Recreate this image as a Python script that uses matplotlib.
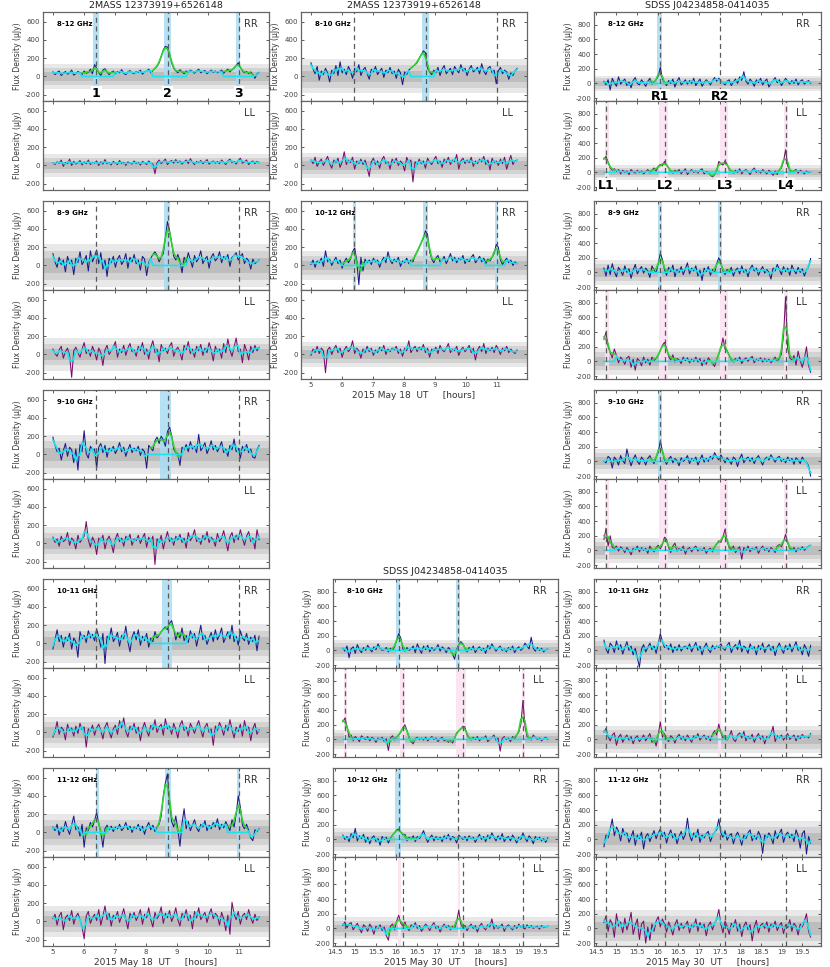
import numpy as np
import matplotlib
matplotlib.use("Agg")
import matplotlib.pyplot as plt
from matplotlib.ticker import FormatStrFormatter

plt.rcParams['font.family'] = ['DejaVu Sans']
plt.rcParams['axes.unicode_minus'] = False

# observing spans (hours UT)
may18_span = (5.0, 11.65)
may30_span = (14.7, 19.7)

# event times (dashed lines)
may18_events = [6.4, 8.7, 11.0]
may30_rr_events = [16.06, 17.51]
may30_ll_events = [14.76, 16.18, 17.64, 19.10]

# ---- 2MASS 12373919+6526148, 2015 May 18 (flux density, uJy) ----
rr_may18_812 = [50, 20, 45, 60, 10, 35, 55, 25, 40, 70, 15, 30, 55, 40, 20, 60, 35, 45, 80, 30,
                130, 90, 40, 10, 70, 85, 50, 20, 45, 60, 30, 55, 40, 75, 35, 20, 50, 65, 40, 30,
                55, 45, 70, 25, 50, 60, 80, 40, 65, 90, 110, 150, 220, 290, 330, 320, 250, 150, 90, 60,
                40, 75, 50, 30, 60, 45, 70, 55, 35, 60, 80, 40, 55, 65, 30, 50, 70, 45, 60, 40,
                55, 70, 35, 60, 80, 50, 75, 90, 120, 150, 100, 60, 40, 55, 30, 50, 20, -20, 30, 45]
ll_may18_812 = [30, 10, 40, 25, 60, -10, 35, 20, 70, 0, 45, 15, 30, 55, 5, 40, 20, 60, 10, 35,
                25, 50, 0, 40, 15, 65, 20, 30, 5, 45, 25, 10, 55, 20, 35, 0, 40, 25, 15, 50,
                20, 35, 5, 45, 30, 10, 50, 25, 15, -90, 30, 60, 20, 45, 70, 10, 40, 55, 25, 65,
                30, 50, 15, 40, 60, 20, 75, 35, 10, 45, 30, 55, 20, 40, 65, 15, 35, 50, 25, 45,
                20, 60, 35, 10, 50, 70, 30, 45, 15, 55, 80, 25, 40, 60, 10, 35, 50, 20, 45, 30]
rr_may18_89 = [130, 40, -20, 90, 10, 60, -70, 100, 20, 60, -100, 80, 30, 150, 10, 50, 110, -60, 160, 40,
               100, 170, 20, 140, -40, 60, -120, 80, 30, 100, -20, 70, 110, 10, 50, 130, -30, 90, 40, 120,
               20, 60, -50, 100, 70, -110, 30, 80, 120, 150, 110, 40, 90, 130, 300, 480, 380, 250, 100, 60,
               120, 50, -80, 90, 30, 140, 60, -20, 110, 40, 80, 160, 20, 70, 100, -30, 90, 130, 50, 80,
               150, 30, 100, 70, 120, -10, 90, 110, 140, 60, 100, 130, 20, 80, 50, -40, 70, 20, 40, 60]
ll_may18_89 = [60, 10, -20, 50, 90, -40, 30, 70, -10, -250, 40, 80, 20, -30, 60, 130, 10, 50, -20, 90,
               30, -60, 70, 20, -120, 50, 100, 0, 40, 80, 140, -30, 60, 20, 100, -10, 70, 120, 30, 50,
               -20, 90, 40, 130, 0, 60, -50, 80, 150, 20, 60, -80, 110, 40, 70, 10, 90, 130, -20, 50,
               80, 20, -60, 100, 50, 140, 10, 60, -30, 90, 40, 110, -10, 70, 20, 130, 50, -70, 90, 30,
               60, -40, 120, 20, 170, 50, -20, 80, 180, 30, 60, -90, 110, 40, -60, 90, 20, 100, 40, 80]
rr_may18_910 = [190, 100, 30, 70, -60, 40, 120, -20, 80, 50, -90, 60, -170, 110, 30, 260, 10, -40, 90, 50,
                60, -150, 80, 120, 20, 100, -30, 70, 40, 90, 10, 60, 130, 30, 80, -20, 50, 110, 20, 70,
                40, 90, -10, 60, 30, -150, 100, 70, 40, 150, 190, 120, 200, 160, 90, 250, 300, 210, 60, 20,
                10, -120, 80, 50, 110, 30, 140, 60, 90, 20, 220, 40, 80, 130, 10, 70, 150, 50, 100, 30,
                80, 140, 20, 60, -20, 100, 50, 170, 30, 70, -40, 90, 40, 110, 20, 60, -30, -40, 50, 100]
ll_may18_910 = [70, 10, 50, -30, 80, 20, 40, 120, -20, 60, 30, -60, 90, 10, 50, 80, 240, 40, -40, 70,
                20, -120, 60, 30, 90, -60, 40, 80, 10, -100, 50, 110, 20, 60, -30, 80, 40, 100, -20, 50,
                30, 90, 0, 60, 110, -40, 70, 20, 80, -230, 50, 10, 90, -60, 40, 130, 20, 60, -20, 80,
                40, 100, 10, 60, -50, 120, 30, 70, 150, 20, 60, -10, 90, 40, 130, 10, 70, 40, -30, 110,
                20, 60, 140, 30, -80, 70, 120, 10, 90, 40, 150, 60, -20, 80, 130, 20, 60, -60, 150, 40]
rr_may18_1011 = [-60, 40, 150, 20, 90, -40, 70, 30, 110, -60, 60, 20, -150, 130, 50, 90, 10, 140, 60, 100,
                 30, 160, 70, -40, 110, -220, 80, 40, 170, 20, 60, 120, -30, 90, 50, 190, 20, -90, 70, 130,
                 40, 150, -20, 80, 30, 110, -40, 60, 20, 130, 60, 90, 130, 160, 180, 150, 220, 250, 160, 40,
                 120, 60, 170, 30, 90, 10, 140, 60, 110, -30, 80, 200, 40, 90, -10, 60, 120, 20, 150, 40,
                 90, 170, 10, 70, 130, 50, 200, 20, 80, -20, 140, 60, 30, 110, -10, 70, 20, 90, -80, 80]
ll_may18_1011 = [-50, 10, 120, -20, 60, 30, -80, 90, 20, 50, -40, 70, -10, 100, 30, 60, -160, 40, 10, 80,
                 -30, 50, 90, 20, -70, 60, 110, 10, -60, 40, 80, -20, 130, 50, 160, 10, -50, 70, 30, 100,
                 -10, 60, -90, 40, 110, 20, -40, 80, 30, 140, 0, 60, 90, -30, 150, 40, 70, -20, 100, 30,
                 -60, 80, 130, 20, 60, -40, 100, 50, -10, 70, 130, 30, -50, 60, 100, 0, 40, -140, 70, 20,
                 110, 50, -30, 80, 20, 140, 30, -60, 60, 10, 90, -40, 130, 20, 60, -90, 40, 100, -20, 30]
rr_may18_1112 = [60, 20, 90, -30, 50, 10, 120, 40, -20, 80, 180, 30, 60, -40, 90, -160, 50, 20, 110, 60,
                 130, 220, 90, 10, -160, 40, 80, 30, 70, 10, 60, 40, 90, 20, 50, 110, 30, 70, 0, 60,
                 40, 90, 20, 70, -20, 60, 110, 30, 80, 10, 60, 90, 180, 400, 540, 640, 330, 120, 60, 180,
                 30, -150, 100, 260, 40, 120, 20, 80, 140, 50, 10, 90, 60, 130, 20, 80, 40, 110, 60, 150,
                 30, 90, 50, 120, 70, 20, 140, 60, 200, 400, 280, 80, 40, 90, 20, -60, -90, 30, 10, 40]
ll_may18_1112 = [30, 80, -40, 60, 100, -90, 40, 70, 10, 120, -30, 50, 90, 20, -60, -190, 60, 110, -20, 40,
                 80, 10, 130, -40, 60, 170, 20, 90, -50, 70, 30, 110, -10, 60, 140, 20, -80, 90, 40, 100,
                 10, 60, 130, -30, 80, 40, 150, 20, -60, 100, 30, 70, 160, -20, 90, 40, 120, 0, 60, 150,
                 20, -50, 90, 40, 130, 10, 70, -80, 110, 40, 150, 20, 60, 100, -10, 80, 140, 30, 90, 60,
                 -40, 100, 30, -100, 70, -140, 210, 80, 20, 110, -30, 60, 90, 20, 130, 40, -20, 80, 10, 50]
rr_may18_810 = [150, 80, 30, 110, -40, 60, 20, 90, 40, -60, 70, 30, 120, 10, 160, 40, 80, 20, 110, 60,
                -20, 90, 50, 130, 10, 70, 100, 30, -30, 80, 50, 110, 20, 60, 90, -10, 70, 40, 100, 30,
                60, -20, 80, 40, -90, 50, 20, 70, 90, 110, 130, 150, 200, 240, 280, 260, 90, 50, 20, 70,
                40, 100, 10, 80, 120, 30, 60, 90, 20, 110, 70, 40, 130, 60, 90, 10, 80, 120, 50, 70,
                100, 30, 140, 60, 20, 90, 110, 40, 70, -80, 60, 100, 30, 70, 50, -30, 40, 10, 60, 90]
ll_may18_810 = [60, 20, 90, -10, 40, 70, 0, 50, 100, 20, -30, 60, 30, 80, -20, 40, 150, 10, 60, 30,
                90, -40, 50, 20, 70, 10, 60, -20, -120, 40, 80, 10, 50, -30, 60, 100, 20, 40, -40, 70,
                30, 80, 0, 50, 20, -60, 90, 30, 60, -180, 40, 10, 70, 20, 50, -30, 80, 40, 10, 60,
                100, 20, 50, -20, 70, 30, 90, 10, 60, 40, 120, -40, 50, 80, 20, 60, 30, 90, -10, 50,
                20, 70, 40, 100, 10, 60, -50, 80, 30, 50, 0, 70, 20, 90, -40, 40, 110, 10, 50, 60]
rr_may18_1012 = [10, 60, -20, 50, 30, 80, -10, 160, 40, 70, 0, 50, 90, 20, 60, -30, 40, 80, 30, 70,
                 150, 190, 60, -210, 90, -60, 70, 30, 60, 10, 80, 40, 60, -20, 50, 90, 30, 150, 60, 20,
                 70, 40, 90, -10, 50, 30, 80, 20, 60, 40, 110, 150, 200, 250, 300, 380, 340, 150, 70, 30,
                 80, 110, 40, 60, 100, 20, 70, 130, 50, 90, 30, 80, 60, 110, 20, 70, 40, 90, 120, 30,
                 60, 100, 40, 80, 20, 70, 50, 90, 130, 230, 200, 60, 10, 50, 80, 30, 60, 0, 40, 20]
ll_may18_1012 = [-10, 60, 20, 90, 10, 70, 40, -200, 50, 80, 0, 60, 100, 20, 70, -30, 50, 90, 30, 60,
                 150, 10, 70, 40, -40, 60, 20, 90, 30, 70, -10, 50, 20, 80, 40, 100, 0, 60, 30, 70,
                 50, 90, 10, 60, -20, 70, 40, 150, 20, 60, 90, 30, 80, 50, 110, 20, 70, -30, 60, 40,
                 80, 10, 100, 50, 30, 70, 120, 20, 60, 40, 90, -10, 50, 80, 30, 60, 100, 20, 70, -60,
                 50, 90, 30, 120, 10, 70, 40, 80, 20, 100, 60, 0, 70, 40, 90, 20, 60, 30, 10, 50]

# ---- SDSS J04234858-0414035, 2015 May 30 (flux density, uJy) ----
rr_may30_812 = [30, -20, 50, -90, 70, 10, -40, 90, -10, 30, 60, -30, 20, -60, 40, 80, 0, -20, 50, 10,
                -40, 30, 70, -10, 20, 50, 100, 220, 60, 10, -30, 40, 0, 60, -50, 30, 80, -20, 10, 50,
                -10, 40, 0, 70, -30, 20, 60, -40, 10, 50, 20, -20, 40, 80, 30, 70, 40, 10, -20, 30,
                50, -30, 20, 60, 0, 90, 40, 160, 30, -10, 60, 20, -40, 50, 10, 70, -20, 30, 60, -50,
                0, 40, 80, 10, 50, -30, 20, 70, 30, -10, 40, 0, 60, -20, 30, 50, -10, 20, 40, 0]
ll_may30_812 = [180, 220, 140, 60, 30, 50, 10, 40, -20, 30, 0, 20, -30, 40, 10, -10, 30, 0, 20, -20,
                10, 40, -10, 30, 60, 20, 80, 110, 90, 150, 100, 60, 20, -10, 30, 0, 40, -20, 20, 50,
                -30, 10, 40, 0, 20, -10, 30, 50, -20, 10, 0, -40, -60, -30, 20, 150, 120, 100, 160, 110,
                40, 20, -10, 30, 0, 50, -20, 20, 40, 10, -30, 30, 60, 0, 20, -10, 40, 10, -20, 30,
                0, -40, 20, -30, 40, 60, 150, 310, 90, 30, 0, 20, 40, -10, 30, 10, -20, 20, 0, 10]
rr_may30_89 = [60, -50, 100, -30, 120, 10, -60, 70, 20, -40, 90, 0, 50, -80, 30, 110, -20, 40, 80, -10,
               60, 20, -70, 90, 30, 0, 120, 260, 180, 40, -40, 70, 10, 100, -60, 40, 0, 80, -30, 50,
               130, -20, 60, 20, 90, -50, 30, -110, 60, 10, 80, -40, 40, 0, 120, 200, 130, 20, -30, 40,
               10, 70, -50, 30, 60, -20, 90, 0, 40, -60, 50, 100, 20, 60, -40, 30, 80, -10, 40, 0,
               -90, 60, 20, 110, 40, -30, 80, 10, 60, -40, 100, 30, -20, 70, 0, 50, -50, 30, 80, 190]
ll_may30_89 = [300, 400, 200, 120, 50, 170, 80, -20, 60, 20, -40, 50, 70, -80, 30, -120, 40, 10, -60, 60,
               -20, 30, -50, 60, 10, 40, 80, 150, 220, 260, 180, 70, 20, 90, -10, 40, 20, -30, 60, 10,
               50, -20, 30, 0, 60, -10, 40, -60, 20, -40, 50, 10, -30, -70, 30, 100, 180, 320, 170, 150,
               80, 20, -10, 40, 10, 60, -30, 20, 50, 0, 40, 70, -20, 30, 10, 50, -10, 40, 0, 30,
               -20, 20, 60, 0, 40, 100, 350, 880, 180, 50, 20, 80, -50, 140, 10, -80, 40, 200, -60, -150]
rr_may30_910 = [0, -20, 70, 40, -90, 60, 20, -50, 80, 10, -30, 170, 40, -60, 30, 90, 0, -40, 60, 20,
                -50, 40, 80, 10, -30, 60, 120, 280, 140, 20, -40, 30, 70, -20, 40, 10, -60, 50, 0, 30,
                80, -30, 40, 10, 60, -50, 20, 90, -10, 40, 0, 70, 30, 120, 60, 20, 90, 40, -20, 50,
                10, -40, 60, 30, -70, 40, 100, -20, 30, 60, 0, 50, -30, 40, 80, 10, -50, 30, 60, 20,
                90, 40, -10, 50, 70, 0, 30, -20, 60, 10, 40, -40, 50, 20, -30, 60, 10, -10, -60, -200]
ll_may30_910 = [150, 300, 60, 200, 40, 30, 60, -10, 50, 20, -30, 40, 0, -60, 30, 10, 60, -20, 40, 0,
                30, -40, 60, 10, -20, 40, 70, 20, 80, 180, 150, 40, -30, 60, 100, -10, 30, 0, 60, -50,
                20, 40, -20, 30, 60, -10, 20, 0, 40, -40, 10, 30, -20, 50, 90, 130, 110, 180, 290, 120,
                40, 10, 60, -30, 20, 50, -120, 40, 0, 60, -20, 30, 10, 50, -40, 20, 60, 0, 30, -20,
                40, 10, -30, 60, 80, 50, 120, 220, 100, 30, 0, 40, -20, 30, 10, 50, 0, 30, 60, 70]
rr_may30_1011 = [140, 20, -40, 100, 60, -30, 130, 10, 80, -50, 40, 120, 0, 60, -60, 30, -100, -230, 20, 80,
                 -20, 40, 100, 10, 60, -40, 90, 230, 120, 40, 70, 10, 90, -30, 50, 0, 80, -10, 40, 60,
                 20, 90, -20, 50, 110, 0, 60, -60, 40, 100, 10, -30, 70, 20, 60, 40, 90, 30, 0, 70,
                 110, -30, 40, 80, 10, 140, -20, 60, 30, -40, 90, 20, 50, -60, 70, 10, 100, -30, 40, 80,
                 0, 60, -70, 40, 100, 20, -40, 70, 10, 90, -20, 50, 120, 0, 40, -60, 80, 20, -80, 70]
ll_may30_1011 = [100, 150, 40, -20, 60, 90, -80, 30, 70, -40, 20, 60, -10, 40, -60, 20, 50, -30, 10, 60,
                 -20, 30, 80, -40, 10, -90, 60, 240, 30, 80, 10, -30, 50, 20, -50, 30, 70, 0, 40, -20,
                 60, 10, -40, 50, 20, 80, -10, 30, 60, 0, 40, -20, 70, 120, 60, 210, 90, 20, 50, -10,
                 40, 120, 0, -30, 60, 90, 20, 110, -20, 40, 10, 70, -40, 30, 80, 0, 50, -60, 40, 20,
                 70, 180, -30, 50, 20, 60, -10, 40, 80, 0, 30, 60, -20, 50, 10, 70, 30, 40, 20, 80]
rr_may30_1112 = [-100, 60, 20, 140, 280, 50, 170, 110, -20, 150, 60, 90, -40, 30, 120, -80, 60, 10, 100, -130,
                 40, 80, -30, 50, 120, 10, 90, 140, 40, 100, -50, 60, 130, 20, 80, -60, 40, 110, 0, 70,
                 290, 60, -20, 90, 30, 140, -40, 60, 20, 80, 110, -30, 50, 100, 130, 280, 90, 30, 120, -10,
                 50, 80, -60, 40, 100, 20, -80, 60, 10, 90, 130, -20, 50, 0, 110, 40, -190, 60, 20, 90,
                 30, -60, 120, 10, 80, 140, -40, 60, 100, 20, 70, -30, 130, 50, -120, 80, 120, -200, 40, -50]
ll_may30_1112 = [80, 170, -40, 120, 60, -120, 200, 30, 90, -60, 140, -20, 80, 220, -80, 40, 130, -150, 60, 100,
                 -200, 20, -160, 60, -40, 100, 160, 20, 130, 60, -50, 90, 10, -90, 50, 120, -30, 70, 0, 40,
                 100, -60, 50, 20, 130, -40, 80, 10, 60, -100, 40, 90, -20, 70, 120, 260, 60, -60, 100, 30,
                 -80, 70, 20, 120, -40, 60, -110, 30, 90, -20, 50, -170, 20, 110, -60, 40, 70, 0, 90, -50,
                 60, 20, 100, -30, 40, 80, -70, 50, 10, 120, -40, 70, 30, -90, 60, 20, 100, 200, -40, -120]
rr_may30_810 = [30, -10, 60, -100, 20, 50, -40, 80, 10, -30, 40, 0, 70, 20, -20, 50, 10, 90, 30, 0,
                10, 40, -20, 30, 0, 50, 140, 230, 170, 20, -10, 40, 0, 20, 60, -30, 90, 20, -40, 60,
                10, 70, -20, 40, 0, 30, 80, -10, 50, 20, -30, 40, 10, -50, -120, 20, 80, 120, 90, 30,
                -20, 40, 10, 60, -30, 20, 50, 0, 30, -40, 70, 20, 90, 40, -10, 30, 60, 0, 20, -20,
                40, 10, 60, -30, 20, 50, 0, 30, 100, 60, 20, 180, 30, -10, 40, 0, 30, -20, 10, 20]
ll_may30_810 = [240, 290, 180, 30, 60, -20, 40, 10, -30, 50, 20, 0, 40, -20, 30, 10, -40, 20, 0, 30,
                -30, 10, -150, 20, 50, -10, 30, 60, 100, 160, 200, 120, 20, -30, -60, 10, 30, 0, 20, -10,
                30, -20, 10, 40, 0, 20, -30, 10, 30, -20, 0, -40, -10, -50, 20, 90, 120, 140, 180, 170,
                60, 20, -10, 30, 0, 40, -20, 20, 10, 50, -30, 0, 30, 60, -10, 20, -160, 10, 40, 0,
                20, -30, 40, 10, 60, 100, 200, 530, 180, 40, 20, -10, 60, 30, 0, 20, -20, 10, 30, 0]
rr_may30_1012 = [60, 0, 40, -30, 80, 20, 150, -20, 50, 10, 70, -40, 30, -60, 20, 50, -30, 10, -80, 40,
                 0, 30, -50, 20, 60, 90, 130, 140, 100, 60, 70, -20, 30, 0, 50, -30, 40, 10, 60, 120,
                 30, -40, 20, 60, -20, 40, 0, 30, -30, 50, 10, 70, -10, 40, 20, -50, 60, 30, 0, 40,
                 -20, 50, 10, 30, -40, 20, 70, 0, 40, -30, 60, 10, 90, 30, -20, 50, 0, 80, -30, 20,
                 40, -20, 60, 10, -50, 30, 0, 90, 20, -30, 50, 10, -60, 40, 0, 30, -20, 10, -40, 20]
ll_may30_1012 = [40, 90, 10, 60, 80, -20, 30, 70, 0, -60, 50, 20, -40, 60, 10, -80, 30, 0, 50, -30,
                 20, -100, -160, 30, 60, -20, 100, 180, 70, 40, 90, 10, -30, 50, 20, 80, 0, 40, -40, 10,
                 60, 20, -30, 40, 80, 0, 30, -50, 20, 60, 10, 40, -20, 30, 0, 90, 250, 60, 10, 40,
                 -30, 20, 60, 0, 40, -50, 30, 70, 10, -20, 50, 20, 130, -10, 40, 0, 30, 60, -40, 20,
                 50, 10, -20, 40, 0, 60, 20, 30, -10, 50, 10, 40, 0, 20, 30, -10, 40, 10, 20, 30]

# ---- figure layout (pixel boxes of 830x967 canvas) ----
W, H = 830.0, 967.0
PH = 89.0  # height of one RR or LL panel

RR_C, LL_C = '#1b1b88', '#7a0d6c'
CYAN, GREEN = '#1ce3ec', '#2fd52f'
BLUE_SH, PINK_SH = '#a9dcf3', '#fbe1f1'


def smooth3(y):
    yp = np.concatenate([[y[0]], y, [y[-1]]])
    return (yp[:-2] + yp[1:-1] + yp[2:]) / 3.0


def in_windows(t, wins):
    m = np.zeros(t.shape, bool)
    for lo, hi in wins:
        m |= (t >= lo) & (t <= hi)
    return m


def add_ax(fig, left, right, top):
    return fig.add_axes([left / W, 1 - (top + PH) / H, (right - left) / W, PH / H])


def draw_panel(ax, span, flux, pol, sigma, events, shades, windows, may30, band=None,
               xlabels=False):
    flux = np.asarray(flux, float)
    t = np.linspace(span[0], span[1], len(flux))
    for k, c in zip((3, 2, 1), ('#e8e8e8', '#d3d3d3', '#bdbdbd')):
        ax.axhspan(-k * sigma, k * sigma, color=c, lw=0, zorder=0)
    sh = BLUE_SH if pol == 'RR' else PINK_SH
    for lo, hi in shades:
        ax.axvspan(lo, hi, color=sh, alpha=0.85, lw=0, zorder=1)
    for e in events:
        ax.axvline(e, color='#5a5a5a', lw=0.9, ls=(0, (4, 3)), zorder=4)

    ax.plot(t, flux, color=RR_C if pol == 'RR' else LL_C, lw=0.75, zorder=2)
    sm = smooth3(flux)
    m = in_windows(t, windows)
    if m.any():
        ax.plot(t, np.where(m, sm, np.nan), color=GREEN, lw=1.2, zorder=3)
    ax.plot(t, np.where(m, 0.0, sm), color=CYAN, lw=1.2, zorder=3.5)

    if may30:
        ax.set_xlim(14.46, 19.95)
        ax.set_ylim(-240, 975)
        ax.set_yticks([-200, 0, 200, 400, 600, 800])
        ax.set_xticks(np.arange(14.5, 19.6, 0.5))
    else:
        ax.set_xlim(4.68, 11.97)
        ax.set_ylim(-268, 705)
        ax.set_yticks([-200, 0, 200, 400, 600])
        ax.set_xticks(np.arange(5, 12))
    ax.xaxis.set_major_formatter(FormatStrFormatter('%g'))
    ax.tick_params(direction='in', length=2.5, width=0.6, top=True, right=True,
                   labelsize=5, colors='#444444', pad=2)
    if not xlabels:
        ax.tick_params(labelbottom=False)
    for s in ax.spines.values():
        s.set_color('#666666')
        s.set_linewidth(0.9)
    ax.set_ylabel('Flux Density (\u03bcJy)', fontsize=5.5, color='#333333', labelpad=2)
    ax.text(0.89, 0.87, pol, transform=ax.transAxes, fontsize=7, color='#333333',
            ha='left', va='center')
    if band:
        ax.text(0.06, 0.87, band, transform=ax.transAxes, fontsize=5, fontweight='bold',
                ha='left', va='center')
    return ax


fig = plt.figure(figsize=(8.3, 9.67), dpi=100)

# left column: 2MASS, May 18
left_rows = [
    ('8-12 GHz', rr_may18_812, 47, [(6.3, 6.5), (8.58, 8.81), (10.89, 11.05)],
     [(5.9, 7.0), (8.2, 9.3), (10.5, 11.5)], ll_may18_812, 43),
    ('8-9 GHz', rr_may18_89, 78, [(8.59, 8.77)], [(8.2, 9.3)], ll_may18_89, 60),
    ('9-10 GHz', rr_may18_910, 72, [(8.45, 8.81)], [(8.1, 9.2)], ll_may18_910, 59),
    ('10-11 GHz', rr_may18_1011, 70, [(8.53, 8.83)], [(8.1, 9.3)], ll_may18_1011, 58),
    ('11-12 GHz', rr_may18_1112, 67, [(6.38, 6.48), (8.6, 8.82), (10.95, 11.05)],
     [(6.0, 6.8), (8.3, 9.2), (10.6, 11.3)], ll_may18_1112, 58),
]
left_tops = [12, 201, 390, 579, 768]
for k, (band, rr, srr, sh, win, ll, sll) in enumerate(left_rows):
    top = left_tops[k]
    a1 = draw_panel(add_ax(fig, 43, 269, top), may18_span, rr, 'RR', srr, may18_events,
                    sh, win, False, band)
    a2 = draw_panel(add_ax(fig, 43, 269, top + PH), may18_span, ll, 'LL', sll, [], [], [],
                    False, xlabels=(k == 4))
    if k == 0:
        for e, lab in zip(may18_events, ['1', '2', '3']):
            a1.text(e, -190, lab, ha='center', va='center', fontsize=9, fontweight='bold',
                    bbox=dict(facecolor='white', edgecolor='none', pad=0.6), zorder=6)
    if k == 4:
        a2.set_xlabel('2015 May 18  UT     [hours]', fontsize=6.5, color='#333333', labelpad=2)

# middle top: 2MASS, May 18
mid_top_rows = [
    ('8-10 GHz', rr_may18_810, 62, [(8.58, 8.8)], [(8.2, 9.0)], ll_may18_810, 45),
    ('10-12 GHz', rr_may18_1012, 54, [(6.35, 6.46), (8.61, 8.78), (10.93, 11.04)],
     [(6.0, 6.8), (8.2, 9.2), (10.6, 11.3)], ll_may18_1012, 47),
]
for k, (band, rr, srr, sh, win, ll, sll) in enumerate(mid_top_rows):
    top = [12, 201][k]
    draw_panel(add_ax(fig, 301, 527, top), may18_span, rr, 'RR', srr, may18_events,
               sh, win, False, band)
    a2 = draw_panel(add_ax(fig, 301, 527, top + PH), may18_span, ll, 'LL', sll, [], [], [],
                    False, xlabels=(k == 1))
    if k == 1:
        a2.set_xlabel('2015 May 18  UT     [hours]', fontsize=6.5, color='#333333', labelpad=2)

# SDSS, May 30
l_all = [(14.72, 14.82), (16.02, 16.26), (17.5, 17.71), (19.06, 19.14)]
w_all = [(14.7, 15.0), (15.8, 16.5), (17.2, 17.9), (18.8, 19.3)]
right_rows = [
    ('8-12 GHz', rr_may30_812, 36, [(15.99, 16.1)], [(15.8, 16.3)], ll_may30_812, 33, l_all, w_all),
    ('8-9 GHz', rr_may30_89, 57, [(16.0, 16.1), (17.47, 17.55)], [(15.8, 16.3), (17.3, 17.8)],
     ll_may30_89, 61, l_all, w_all),
    ('9-10 GHz', rr_may30_910, 55, [(16.0, 16.1)], [(15.8, 16.3)], ll_may30_910, 57, l_all, w_all),
    ('10-11 GHz', rr_may30_1011, 62, [], [], ll_may30_1011, 62,
     [(16.02, 16.11), (17.47, 17.54)], [(15.8, 16.4), (17.3, 17.7)]),
    ('11-12 GHz', rr_may30_1112, 82, [], [], ll_may30_1112, 85, [], []),
]
for k, (band, rr, srr, sh, win, ll, sll, lsh, lwin) in enumerate(right_rows):
    top = left_tops[k]
    a1 = draw_panel(add_ax(fig, 594, 821, top), may30_span, rr, 'RR', srr, may30_rr_events,
                    sh, win, True, band)
    a2 = draw_panel(add_ax(fig, 594, 821, top + PH), may30_span, ll, 'LL', sll, may30_ll_events,
                    lsh, lwin, True, xlabels=(k == 4))
    if k == 0:
        for e, lab in zip(may30_rr_events, ['R1', 'R2']):
            a1.text(e, -180, lab, ha='center', va='center', fontsize=9, fontweight='bold',
                    bbox=dict(facecolor='white', edgecolor='none', pad=0.6), zorder=6)
        for e, lab in zip(may30_ll_events, ['L1', 'L2', 'L3', 'L4']):
            a2.text(e, -175, lab, ha='center', va='center', fontsize=9, fontweight='bold',
                    bbox=dict(facecolor='white', edgecolor='none', pad=0.6), zorder=6)
    if k == 4:
        a2.set_xlabel('2015 May 30  UT     [hours]', fontsize=6.5, color='#333333', labelpad=2)

mid_bot_rows = [
    ('8-10 GHz', rr_may30_810, 48, [(16.0, 16.1), (17.47, 17.55)], [(15.8, 16.3), (17.3, 17.8)],
     ll_may30_810, 43, [(14.72, 14.8), (16.1, 16.22), (17.45, 17.7), (19.06, 19.15)], w_all),
    ('10-12 GHz', rr_may30_1012, 52, [(15.98, 16.12)], [(15.8, 16.5)], ll_may30_1012, 50,
     [(16.05, 16.12), (17.5, 17.57)], [(15.8, 16.4), (17.3, 17.7)]),
]
for k, (band, rr, srr, sh, win, ll, sll, lsh, lwin) in enumerate(mid_bot_rows):
    top = [579, 768][k]
    draw_panel(add_ax(fig, 333, 558, top), may30_span, rr, 'RR', srr, may30_rr_events,
               sh, win, True, band)
    a2 = draw_panel(add_ax(fig, 333, 558, top + PH), may30_span, ll, 'LL', sll, may30_ll_events,
                    lsh, lwin, True, xlabels=(k == 1))
    if k == 1:
        a2.set_xlabel('2015 May 30  UT     [hours]', fontsize=6.5, color='#333333', labelpad=2)

# titles
for xc, yc, txt in [(156, 6, '2MASS 12373919+6526148'), (414, 6, '2MASS 12373919+6526148'),
                    (707, 6, 'SDSS J04234858-0414035'), (445, 571, 'SDSS J04234858-0414035')]:
    fig.text(xc / W, 1 - yc / H, txt, ha='center', va='center', fontsize=6.8, color='#222222')

fig.savefig('out.png', dpi=100)
